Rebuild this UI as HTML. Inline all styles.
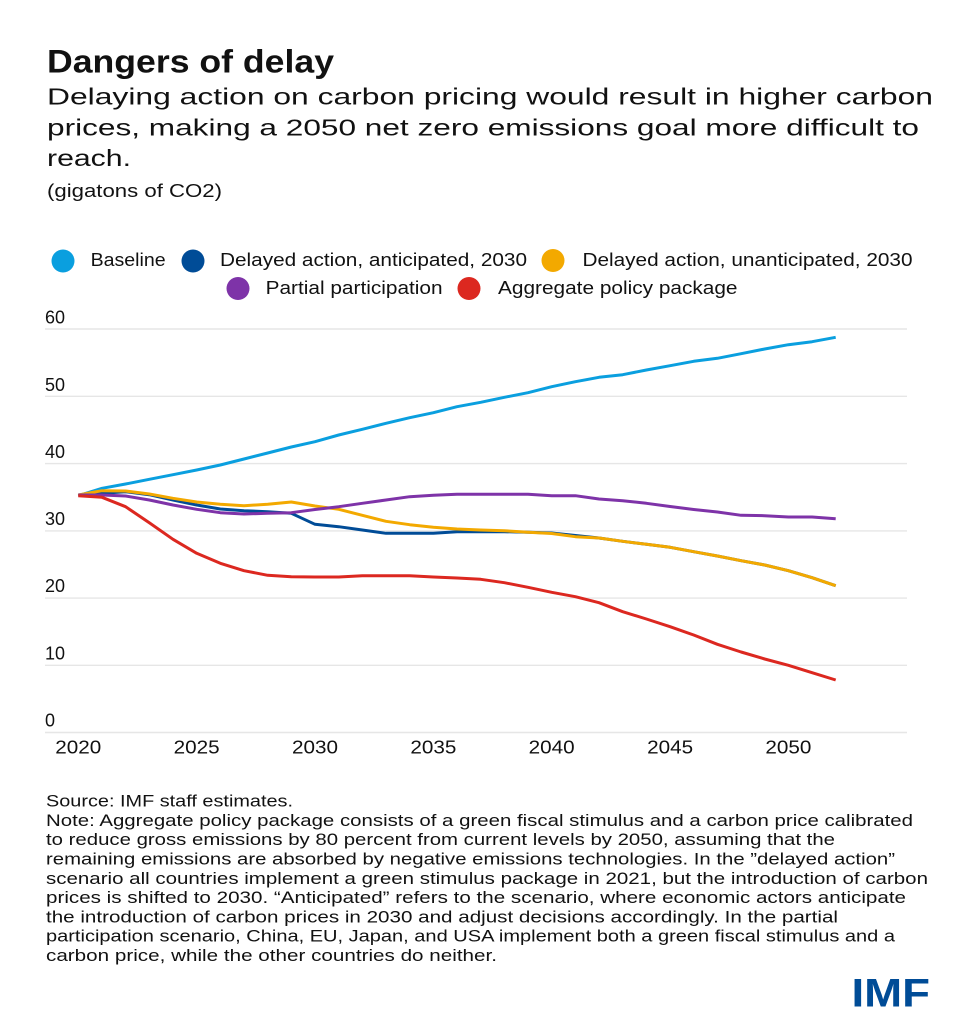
<!DOCTYPE html>
<html>
<head>
<meta charset="utf-8">
<style>
  html,body{margin:0;padding:0;background:#fff;}
  svg{display:block;}
  text{font-family:"Liberation Sans",sans-serif;fill:#111;}
</style>
</head>
<body>
<svg width="975" height="1024" viewBox="0 0 975 1024" xmlns="http://www.w3.org/2000/svg">
  <rect width="975" height="1024" fill="#fff"/>

  <!-- Title -->
  <text x="47" y="72.5" font-size="32" font-weight="bold" textLength="287" lengthAdjust="spacingAndGlyphs">Dangers of delay</text>
  <text x="47" y="104.5" font-size="23" textLength="886" lengthAdjust="spacingAndGlyphs">Delaying action on carbon pricing would result in higher carbon</text>
  <text x="47" y="135.5" font-size="23" textLength="872" lengthAdjust="spacingAndGlyphs">prices, making a 2050 net zero emissions goal more difficult to</text>
  <text x="47" y="166" font-size="23" textLength="84" lengthAdjust="spacingAndGlyphs">reach.</text>
  <text x="47" y="197" font-size="18" textLength="175" lengthAdjust="spacingAndGlyphs">(gigatons of CO2)</text>

  <!-- Legend -->
  <circle cx="63" cy="261" r="11.5" fill="#0a9fdf"/>
  <text x="90.6" y="266" font-size="18" textLength="75" lengthAdjust="spacingAndGlyphs">Baseline</text>
  <circle cx="193" cy="261" r="11.5" fill="#004c97"/>
  <text x="220" y="266" font-size="18" textLength="307" lengthAdjust="spacingAndGlyphs">Delayed action, anticipated, 2030</text>
  <circle cx="553" cy="260.5" r="11.5" fill="#f3a900"/>
  <text x="582.5" y="266" font-size="18" textLength="330" lengthAdjust="spacingAndGlyphs">Delayed action, unanticipated, 2030</text>
  <circle cx="238" cy="288.5" r="11.5" fill="#7e33a8"/>
  <text x="265.6" y="294" font-size="18" textLength="177" lengthAdjust="spacingAndGlyphs">Partial participation</text>
  <circle cx="469" cy="288.5" r="11.5" fill="#dc2820"/>
  <text x="498" y="294" font-size="18" textLength="239.5" lengthAdjust="spacingAndGlyphs">Aggregate policy package</text>

  <!-- Gridlines -->
  <g stroke="#e6e6e6" stroke-width="1.4">
    <line x1="45" y1="329" x2="907" y2="329"/>
    <line x1="45" y1="396.3" x2="907" y2="396.3"/>
    <line x1="45" y1="463.6" x2="907" y2="463.6"/>
    <line x1="45" y1="530.9" x2="907" y2="530.9"/>
    <line x1="45" y1="598.1" x2="907" y2="598.1"/>
    <line x1="45" y1="665.3" x2="907" y2="665.3"/>
    <line x1="45" y1="732.5" x2="907" y2="732.5"/>
  </g>

  <!-- Y labels -->
  <g font-size="18">
    <text x="45" y="323.5">60</text>
    <text x="45" y="391">50</text>
    <text x="45" y="458">40</text>
    <text x="45" y="525">30</text>
    <text x="45" y="592">20</text>
    <text x="45" y="659.5">10</text>
    <text x="45" y="726.5">0</text>
  </g>

  <!-- X labels -->
  <g font-size="18" text-anchor="middle">
    <text x="78.3" y="753.5" textLength="46" lengthAdjust="spacingAndGlyphs">2020</text>
    <text x="196.7" y="753.5" textLength="46" lengthAdjust="spacingAndGlyphs">2025</text>
    <text x="315" y="753.5" textLength="46" lengthAdjust="spacingAndGlyphs">2030</text>
    <text x="433.4" y="753.5" textLength="46" lengthAdjust="spacingAndGlyphs">2035</text>
    <text x="551.7" y="753.5" textLength="46" lengthAdjust="spacingAndGlyphs">2040</text>
    <text x="670.1" y="753.5" textLength="46" lengthAdjust="spacingAndGlyphs">2045</text>
    <text x="788.4" y="753.5" textLength="46" lengthAdjust="spacingAndGlyphs">2050</text>
  </g>

  <!-- Series -->
  <g fill="none" stroke-width="3" stroke-linejoin="round" stroke-linecap="butt">
    <polyline stroke="#0a9fdf" points="78.3,495.7 102.0,488.3 125.6,484 149.3,479.3 173.0,474.7 196.7,470 220.3,465 244.0,459 267.7,453 291.3,447 315.0,441.7 338.7,435 362.3,429.3 386.0,423.3 409.7,417.7 433.4,412.7 457.0,406.7 480.7,402.3 504.4,397.3 528.0,392.7 551.7,386.7 575.4,381.7 599.0,377.3 622.7,374.7 646.4,370 670.1,365.7 693.7,361.3 717.4,358.3 741.1,353.7 764.7,349 788.4,344.7 812.1,341.7 835.7,337.3"/>
    <polyline stroke="#004c97" points="78.3,495 102.0,493.3 125.6,491.7 149.3,494.7 173.0,500 196.7,505 220.3,509 244.0,510.7 267.7,511.7 291.3,513.3 315.0,524.3 338.7,526.7 362.3,530 386.0,533.3 409.7,533.3 433.4,533.3 457.0,531.7 480.7,531.7 504.4,531.7 528.0,532.3 551.7,533 575.4,535.5 599.0,538 622.7,541.3 646.4,544.3 670.1,547.3 693.7,551.7 717.4,556 741.1,560.7 764.7,565 788.4,570.7 812.1,577.7 835.7,585.7"/>
    <polyline stroke="#f3a900" points="78.3,495 102.0,490.7 125.6,491 149.3,494 173.0,498.3 196.7,502 220.3,504.3 244.0,505.7 267.7,504.3 291.3,502 315.0,506 338.7,509.3 362.3,515.3 386.0,521.3 409.7,524.7 433.4,527.3 457.0,529 480.7,530 504.4,530.7 528.0,532.3 551.7,533.5 575.4,536.7 599.0,538 622.7,541.3 646.4,544.3 670.1,547.3 693.7,551.7 717.4,556 741.1,560.7 764.7,565 788.4,570.7 812.1,577.7 835.7,585.7"/>
    <polyline stroke="#7e33a8" points="78.3,495 102.0,495 125.6,496 149.3,500 173.0,505 196.7,509.3 220.3,512.7 244.0,514 267.7,513.3 291.3,512.7 315.0,509.5 338.7,506.7 362.3,503.3 386.0,500 409.7,496.7 433.4,495.3 457.0,494.3 480.7,494.3 504.4,494.3 528.0,494.3 551.7,495.7 575.4,495.7 599.0,499 622.7,500.7 646.4,503.3 670.1,506.5 693.7,509.5 717.4,512 741.1,515.3 764.7,515.7 788.4,517 812.1,517 835.7,518.7"/>
    <polyline stroke="#dc2820" points="78.3,495.7 102.0,497.3 125.6,506.7 149.3,522.7 173.0,539.3 196.7,553.3 220.3,563.3 244.0,570.7 267.7,575.3 291.3,576.7 315.0,577 338.7,577 362.3,575.7 386.0,575.7 409.7,575.7 433.4,577 457.0,578 480.7,579.3 504.4,582.7 528.0,587.3 551.7,592.3 575.4,596.7 599.0,602.7 622.7,611.7 646.4,619 670.1,626.7 693.7,635 717.4,644.3 741.1,652 764.7,659 788.4,665.3 812.1,672.7 835.7,680"/>
  </g>

  <!-- Footer -->
  <g font-size="16.5">
    <text x="46" y="806.7" textLength="247" lengthAdjust="spacingAndGlyphs">Source: IMF staff estimates.</text>
    <text x="46" y="825.9" textLength="867" lengthAdjust="spacingAndGlyphs">Note: Aggregate policy package consists of a green fiscal stimulus and a carbon price calibrated</text>
    <text x="46" y="845.2" textLength="789" lengthAdjust="spacingAndGlyphs">to reduce gross emissions by 80 percent from current levels by 2050, assuming that the</text>
    <text x="46" y="864.5" textLength="849" lengthAdjust="spacingAndGlyphs">remaining emissions are absorbed by negative emissions technologies. In the ”delayed action”</text>
    <text x="46" y="883.8" textLength="882" lengthAdjust="spacingAndGlyphs">scenario all countries implement a green stimulus package in 2021, but the introduction of carbon</text>
    <text x="46" y="903.1" textLength="860" lengthAdjust="spacingAndGlyphs">prices is shifted to 2030. “Anticipated” refers to the scenario, where economic actors anticipate</text>
    <text x="46" y="922.4" textLength="792" lengthAdjust="spacingAndGlyphs">the introduction of carbon prices in 2030 and adjust decisions accordingly. In the partial</text>
    <text x="46" y="941.7" textLength="849" lengthAdjust="spacingAndGlyphs">participation scenario, China, EU, Japan, and USA implement both a green fiscal stimulus and a</text>
    <text x="46" y="961" textLength="451" lengthAdjust="spacingAndGlyphs">carbon price, while the other countries do neither.</text>
  </g>

  <!-- IMF logo -->
  <text x="851.5" y="1006.7" font-size="40" font-weight="bold" textLength="78.5" lengthAdjust="spacingAndGlyphs" style="fill:#004c97">IMF</text>
</svg>
</body>
</html>
